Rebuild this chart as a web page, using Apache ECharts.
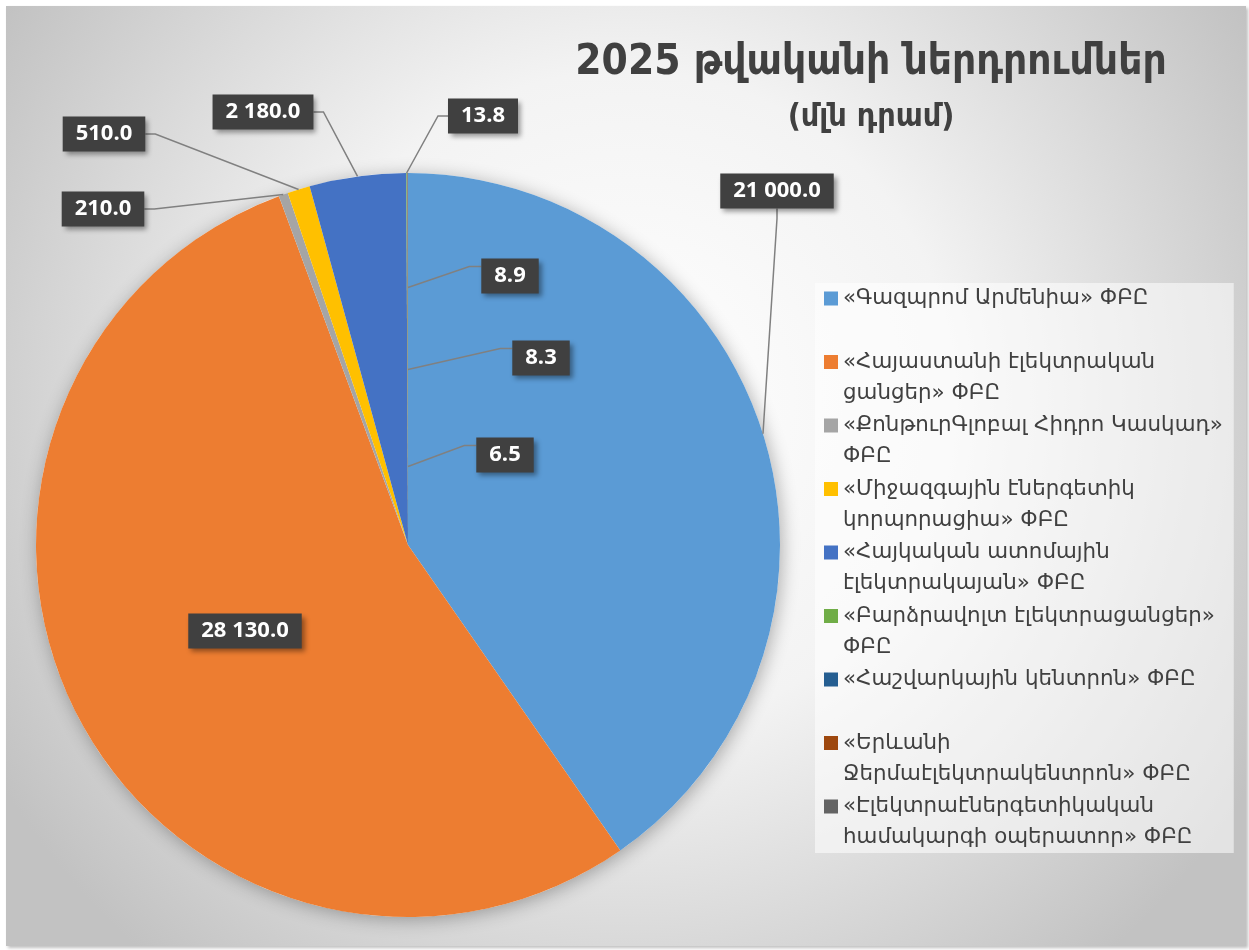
<!DOCTYPE html>
<html>
<head>
<meta charset="utf-8">
<script src="https://cdn.jsdelivr.net/npm/echarts@6/dist/echarts.min.js"></script>
<style>
  html, body { margin: 0; padding: 0; background: #ffffff; }
  #chart {
    position: absolute; left: 6px; top: 6px; width: 1240px; height: 940px;
    box-shadow: 2px 2px 3px rgba(0, 0, 0, 0.25);
  }
</style>
</head>
<body>
<div id="chart"></div>
<script>
// Ներդրումներ, մլն դրամ
var companies = [
  '«Գազպրոմ Արմենիա» ՓԲԸ',
  '«Հայաստանի էլեկտրական\nցանցեր» ՓԲԸ',
  '«ՔոնթուրԳլոբալ Հիդրո Կասկադ»\nՓԲԸ',
  '«Միջազգային էներգետիկ\nկորպորացիա» ՓԲԸ',
  '«Հայկական ատոմային\nէլեկտրակայան» ՓԲԸ',
  '«Բարձրավոլտ էլեկտրացանցեր»\nՓԲԸ',
  '«Հաշվարկային կենտրոն» ՓԲԸ',
  '«Երևանի\nՋերմաէլեկտրակենտրոն» ՓԲԸ',
  '«Էլեկտրաէներգետիկական\nհամակարգի օպերատոր» ՓԲԸ'
];
var investments = [21000, 28130, 210, 510, 2180, 13.8, 8.9, 8.3, 6.5];
var colors = ['#5B9BD5', '#ED7D31', '#A5A5A5', '#FFC000', '#4472C4', '#70AD47', '#255E91', '#9E480E', '#636363'];

// data label box centres (chart px), Excel-style manual placement
var labelPos = [
  [771, 185], [239, 625], [97, 203], [98, 128], [257, 106],
  [477, 110], [504, 270], [535, 352], [499, 449]
];
// labels that sit inside the big slice and get an elbow leader to the thin slice
var elbowLabels = [6, 7, 8];

function fmt(v) {
  var s = v.toFixed(1).split('.');
  return s[0].replace(/\B(?=(\d{3})+(?!\d))/g, ' ') + '.' + s[1];
}

var total = investments.reduce(function (a, b) { return a + b; }, 0);
var pieCenter = [402, 539];
var pieRadius = 372;

var chart = echarts.init(document.getElementById('chart'), null, { renderer: 'canvas' });

chart.setOption({
  animation: false,
  backgroundColor: {
    type: 'radial', x: 0.5, y: 0.42, r: 0.78,
    colorStops: [
      { offset: 0, color: '#ffffff' },
      { offset: 0.45, color: '#f3f3f3' },
      { offset: 1, color: '#c2c2c2' }
    ]
  },
  title: {
    text: '2025 թվականի ներդրումներ',
    subtext: '(մլն դրամ)',
    left: 860,
    top: 31,
    textAlign: 'center',
    itemGap: 18,
    textStyle: {
      fontFamily: '"DejaVu Sans Condensed", "DejaVu Sans", sans-serif',
      fontSize: 42, fontWeight: 'bold', color: '#404040'
    },
    subtextStyle: {
      fontFamily: '"DejaVu Sans Condensed", "DejaVu Sans", sans-serif',
      fontSize: 32, fontWeight: 'bold', color: '#404040'
    }
  },
  legend: {
    orient: 'vertical',
    left: 809,
    top: 277,
    padding: [0, 11, 0, 9],
    backgroundColor: 'rgba(255,255,255,0.55)',
    itemWidth: 14,
    itemHeight: 62,
    itemGap: 1.5,
    // square sitting on the first text line
    icon: 'path://M0 0h.01v.01h-.01z M0 8.5h14v14h-14z M0 61.99h.01v.01h-.01z',
    data: companies,
    formatter: function (name) {
      return name.indexOf('\n') < 0 ? name + '\n ' : name;
    },
    textStyle: {
      fontFamily: '"DejaVu Sans", sans-serif',
      fontSize: 21.4, lineHeight: 31, color: '#404040'
    }
  },
  series: [
    {
      // soft shadow under the pie
      type: 'pie',
      silent: true,
      center: pieCenter,
      radius: pieRadius,
      startAngle: 90,
      label: { show: false },
      labelLine: { show: false },
      itemStyle: {
        color: '#ffffff',
        shadowBlur: 18, shadowOffsetX: 2, shadowOffsetY: 3,
        shadowColor: 'rgba(0,0,0,0.3)'
      },
      data: [{ name: '', value: total }],
      z: 1
    },
    {
      // coloured slices
      type: 'pie',
      center: pieCenter,
      radius: pieRadius,
      startAngle: 90,
      clockwise: true,
      label: { show: false },
      labelLine: { show: false },
      data: investments.map(function (v, i) {
        return { name: companies[i], value: v, itemStyle: { color: colors[i] } };
      }),
      z: 2
    },
    {
      // same slices, transparent, carrying the data labels so leaders draw above the fill
      type: 'pie',
      silent: true,
      center: pieCenter,
      radius: pieRadius,
      startAngle: 90,
      clockwise: true,
      avoidLabelOverlap: false,
      minShowLabelAngle: 0,
      itemStyle: { color: 'rgba(0,0,0,0)' },
      data: investments.map(function (v, i) {
        return { name: companies[i], value: v, labelLine: { show: i !== 1 } };
      }),
      label: {
        show: true,
        position: 'outside',
        formatter: function (p) { return fmt(p.value); },
        fontFamily: '"Open Sans", "Liberation Sans", sans-serif',
        fontSize: 22,
        fontWeight: 'bold',
        color: '#ffffff',
        backgroundColor: '#404040',
        padding: [7, 13, 6, 13],
        shadowBlur: 5,
        shadowOffsetX: 3,
        shadowOffsetY: 3,
        shadowColor: 'rgba(0,0,0,0.4)'
      },
      labelLine: {
        show: true,
        length: 10,
        length2: 10,
        lineStyle: { color: '#808080', width: 1.5 }
      },
      labelLayout: function (params) {
        var i = params.dataIndex;
        var p = labelPos[i];
        var out = { x: p[0], y: p[1], align: 'center', verticalAlign: 'middle' };
        if (elbowLabels.indexOf(i) >= 0) {
          var w = params.labelRect.width, h = params.labelRect.height;
          var left = p[0] - w / 2, top = p[1] - h / 2;
          var edgeX = params.rect.x + params.rect.width;
          out.labelLinePoints = [
            [edgeX, top + 29],
            [left - 12, top + 8],
            [left, top + 8]
          ];
        }
        return out;
      },
      z: 3
    }
  ]
});
</script>
</body>
</html>
